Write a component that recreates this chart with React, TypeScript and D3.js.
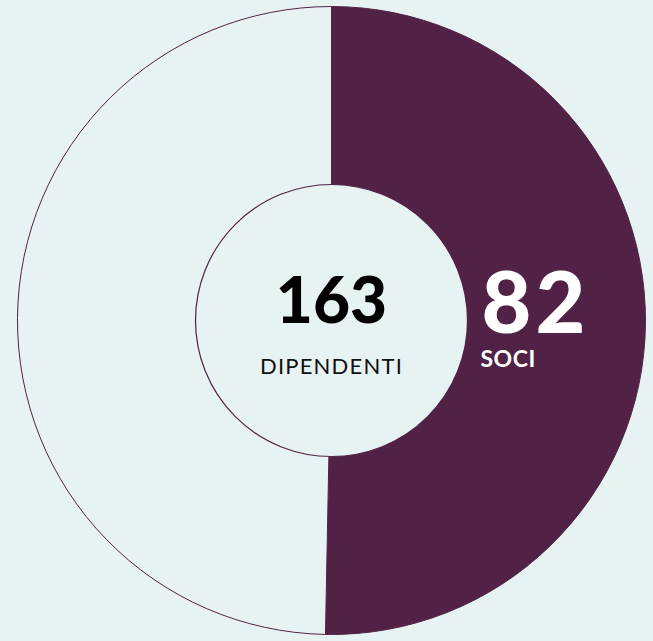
import React from "react";
import * as d3 from "d3";

const categories = ["SOCI", "ALTRI"];
const values = [82, 81];
const totalLabel = "163";
const totalCaption = "DIPENDENTI";
const highlightLabel = "82";
const highlightCaption = "SOCI";

const W = 653;
const H = 641;
const BG = "#e7f3f3";
const PURPLE = "#512245";

export default function App() {
  const cx = 331.5;
  const cy = 320.5;
  const outerR = 314;
  const innerR = 136;
  const pie = d3.pie<number>().sort(null).value((d) => d);
  const arcs = pie(values);
  const arc = d3.arc<d3.PieArcDatum<number>>().innerRadius(0).outerRadius(outerR);
  const fills = [PURPLE, BG];
  React.useEffect(() => {
    document.body.style.margin = "0";
    document.body.style.background = BG;
  }, []);
  return (
    <svg width={W} height={H} style={{ display: "block", background: BG }}>
      <g transform={`translate(${cx},${cy})`}>
        {arcs.map((a, i) => (
          <path key={categories[i]} d={arc(a) || ""} fill={fills[i]} stroke={PURPLE} strokeWidth={1} />
        ))}
        <circle r={innerR} fill={BG} stroke={PURPLE} strokeWidth={1.2} />
        <text
          x={0}
          y={2}
          textAnchor="middle"
          fontFamily="Lato, sans-serif"
          fontWeight={900}
          fontSize={64}
          fill="#000"
        >
          {totalLabel}
        </text>
        <text
          x={0}
          y={53}
          textAnchor="middle"
          fontFamily="Lato, sans-serif"
          fontWeight={400}
          fontSize={22}
          letterSpacing={1.2}
          fill="#111"
        >
          {totalCaption}
        </text>
        <text
          x={150}
          y={12}
          textAnchor="start"
          fontFamily="Lato, sans-serif"
          fontWeight={900}
          fontSize={86}
          letterSpacing={4}
          fill="#fff"
        >
          {highlightLabel}
        </text>
        <text
          x={149}
          y={46}
          textAnchor="start"
          fontFamily="Lato, sans-serif"
          fontWeight={700}
          fontSize={23}
          letterSpacing={0.5}
          fill="#fff"
        >
          {highlightCaption}
        </text>
      </g>
    </svg>
  );
}
